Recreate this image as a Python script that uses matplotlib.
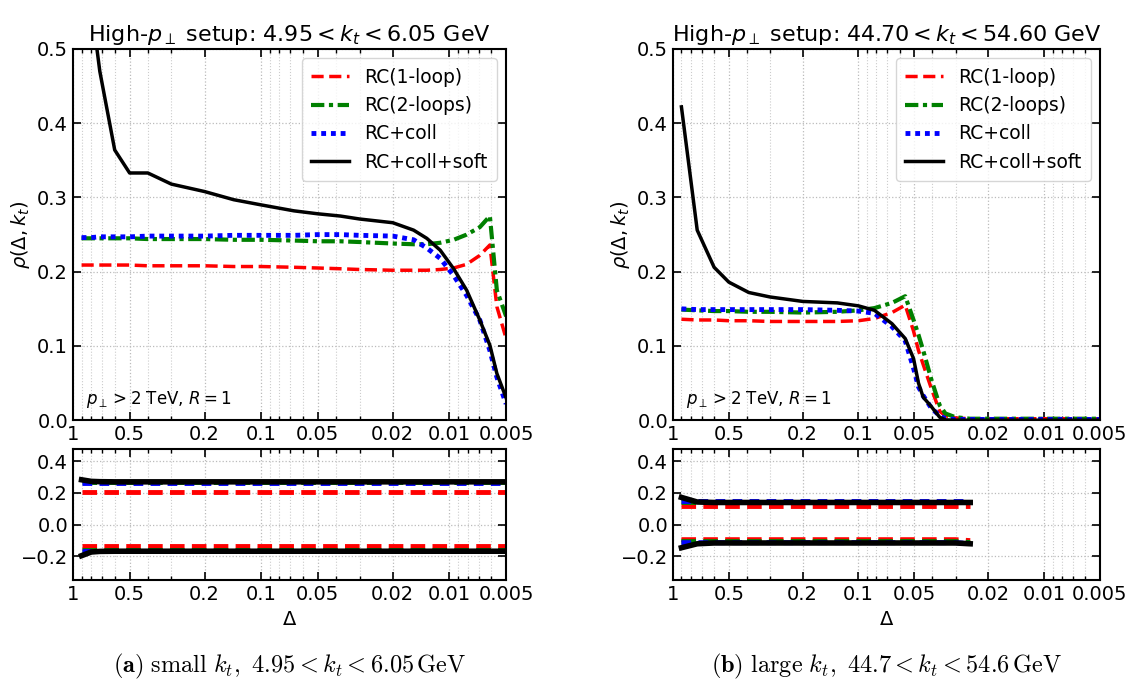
import matplotlib
matplotlib.use("Agg")
from matplotlib import pyplot as plt
from matplotlib.ticker import FixedLocator, NullFormatter, LogLocator

# ---- data ----
# small kt panel
delta_a = [0.9, 0.8, 0.72, 0.6, 0.5, 0.4, 0.3, 0.2, 0.14, 0.1, 0.067, 0.05, 0.038,
           0.03, 0.02, 0.0155, 0.0132, 0.0112, 0.0095, 0.0081, 0.0069, 0.0061, 0.0056, 0.005]
rc1_a = [0.209, 0.209, 0.209, 0.209, 0.209, 0.208, 0.208, 0.208, 0.207, 0.207, 0.206, 0.205, 0.204,
         0.203, 0.202, 0.202, 0.202, 0.203, 0.205, 0.210, 0.222, 0.236, 0.153, 0.110]
rc2_a = [0.245, 0.245, 0.245, 0.245, 0.245, 0.244, 0.244, 0.244, 0.243, 0.243, 0.242, 0.241, 0.241,
         0.240, 0.238, 0.237, 0.237, 0.239, 0.243, 0.250, 0.260, 0.275, 0.175, 0.140]
coll_a = [0.246, 0.246, 0.247, 0.247, 0.247, 0.248, 0.248, 0.248, 0.249, 0.249, 0.249, 0.250, 0.250,
          0.249, 0.248, 0.243, 0.232, 0.218, 0.195, 0.168, 0.135, 0.094, 0.058, 0.022]
soft_a = [0.80, 0.56, 0.47, 0.364, 0.333, 0.333, 0.318, 0.308, 0.297, 0.290, 0.282, 0.278, 0.275,
          0.271, 0.266, 0.256, 0.245, 0.229, 0.204, 0.175, 0.135, 0.101, 0.063, 0.030]

# ratio panel, small kt (upper and lower bands)
rc1_a_up = [0.207] * 24
rc2_a_up = [0.266] * 24
coll_a_up = [0.262] * 24
soft_a_up = [0.283, 0.273, 0.271] + [0.270] * 21
rc1_a_lo = [-0.137] * 24
rc2_a_lo = [-0.160] * 24
coll_a_lo = [-0.164] * 24
soft_a_lo = [-0.195, -0.172, -0.168] + [-0.167] * 21

# large kt panel
delta_b = [0.9, 0.74, 0.6, 0.5, 0.39, 0.3, 0.2, 0.13, 0.1, 0.082, 0.066, 0.056, 0.0505,
           0.0475, 0.0448, 0.0404, 0.0365, 0.034, 0.03, 0.025, 0.02, 0.015, 0.01, 0.0075, 0.005]
rc1_b = [0.136, 0.135, 0.135, 0.134, 0.134, 0.133, 0.133, 0.133, 0.134, 0.137, 0.145, 0.155, 0.120,
         0.094, 0.075, 0.042, 0.012, 0.006, 0.003, 0.002, 0.002, 0.002, 0.002, 0.002, 0.002]
rc2_b = [0.149, 0.148, 0.147, 0.147, 0.146, 0.146, 0.145, 0.146, 0.148, 0.151, 0.158, 0.167, 0.135,
         0.115, 0.094, 0.054, 0.020, 0.009, 0.004, 0.002, 0.002, 0.002, 0.002, 0.002, 0.002]
coll_b = [0.150, 0.149, 0.149, 0.149, 0.149, 0.149, 0.149, 0.148, 0.147, 0.144, 0.126, 0.107, 0.070,
          0.045, 0.033, 0.016, 0.006, 0.002, 0.001, 0.001, 0.001, 0.001, 0.001, 0.001, 0.001]
soft_b = [0.422, 0.256, 0.206, 0.186, 0.172, 0.166, 0.160, 0.158, 0.154, 0.148, 0.130, 0.110, 0.083,
          0.050, 0.031, 0.018, 0.004, 0.0005, 0.0, 0.0, 0.0, 0.0, 0.0, 0.0, 0.0]

# ratio panel, large kt (stops at about 0.025)
delta_b_r = delta_b[:20]
rc1_b_up = [0.121] * 20
rc2_b_up = [0.142] * 20
coll_b_up = [0.148] * 20
soft_b_up = [0.172, 0.143] + [0.140] * 18
rc1_b_lo = [-0.094] * 19 + [-0.100]
rc2_b_lo = [-0.106] * 19 + [-0.112]
coll_b_lo = [-0.113] * 19 + [-0.118]
soft_b_lo = [-0.145, -0.120] + [-0.115] * 17 + [-0.120]

xticks = [1, 0.5, 0.2, 0.1, 0.05, 0.02, 0.01, 0.005]
xticklabels = ["1", "0.5", "0.2", "0.1", "0.05", "0.02", "0.01", "0.005"]
labels = ["RC(1-loop)", "RC(2-loops)", "RC+coll", "RC+coll+soft"]
titles = [r"High-$p_\perp$ setup: $4.95 < k_t < 6.05$ GeV",
          r"High-$p_\perp$ setup: $44.70 < k_t < 54.60$ GeV"]
captions = [r"$\mathbf{(a)}\ \mathrm{small}\ k_t,\ 4.95 < k_t < 6.05\,\mathrm{GeV}$",
            r"$\mathbf{(b)}\ \mathrm{large}\ k_t,\ 44.7 < k_t < 54.6\,\mathrm{GeV}$"]

red_style = dict(color="red", ls=(0, (3.5, 1.6)))
green_style = dict(color="green", ls=(0, (3.2, 1.1, 1.0, 1.1)))
blue_style = dict(color="blue", ls=(0, (1, 1)))
black_style = dict(color="black", ls="-")


def style_x(ax):
    ax.set_xscale("log")
    ax.set_xlim(1, 0.005)
    ax.xaxis.set_major_locator(FixedLocator(xticks))
    ax.set_xticklabels(xticklabels)
    ax.xaxis.set_minor_locator(LogLocator(base=10, subs=range(2, 10)))
    ax.xaxis.set_minor_formatter(NullFormatter())
    ax.tick_params(which="both", direction="in", top=True, right=True, labelsize=14)
    ax.tick_params(which="major", length=6, width=1.2)
    ax.tick_params(which="minor", length=3, width=1)
    ax.grid(True, which="major", ls=":", color="#bbbbbb", lw=0.9)
    ax.grid(True, which="minor", axis="x", ls=":", color="#cccccc", lw=0.8)
    for s in ax.spines.values():
        s.set_linewidth(1.5)


fig = plt.figure(figsize=(11.31, 6.9), dpi=100)

panels = [
    (0.0645, 0.383, delta_a, [rc1_a, rc2_a, coll_a, soft_a], delta_a,
     [rc1_a_up, rc2_a_up, coll_a_up, soft_a_up], [rc1_a_lo, rc2_a_lo, coll_a_lo, soft_a_lo]),
    (0.595, 0.3775, delta_b, [rc1_b, rc2_b, coll_b, soft_b], delta_b_r,
     [rc1_b_up, rc2_b_up, coll_b_up, soft_b_up], [rc1_b_lo, rc2_b_lo, coll_b_lo, soft_b_lo]),
]

for i, (left, width, xs, ys, xr, ups, los) in enumerate(panels):
    ax = fig.add_axes([left, 0.391, width, 0.538])
    ax.plot(xs, ys[0], lw=2.5, label=labels[0], **red_style)
    ax.plot(xs, ys[1], lw=3.0, label=labels[1], **green_style)
    ax.plot(xs, ys[2], lw=3.5, label=labels[2], **blue_style)
    ax.plot(xs, ys[3], lw=2.5, label=labels[3], **black_style)
    style_x(ax)
    ax.set_ylim(0, 0.5)
    ax.set_yticks([0.0, 0.1, 0.2, 0.3, 0.4, 0.5])
    ax.set_ylabel(r"$\rho(\Delta, k_t)$", fontsize=14)
    ax.set_title(titles[i], fontsize=16, pad=6)
    leg = ax.legend(loc="upper right", fontsize=13.5, handlelength=2.0,
                    fancybox=True, framealpha=0.8, borderpad=0.5)
    leg.get_frame().set_edgecolor("#cccccc")
    ax.text(0.03, 0.045, r"$p_{\perp} > 2$ TeV, $R = 1$", transform=ax.transAxes, fontsize=12)

    axr = fig.add_axes([left, 0.159, width, 0.191])
    for band in (ups, los):
        axr.plot(xr, band[0], lw=3.5, **dict(red_style, ls=(0, (3, 1.5))))
        axr.plot(xr, band[1], lw=3.5, **dict(green_style, ls=(0, (3, 1.5))))
        axr.plot(xr, band[2], lw=3.5, **dict(blue_style, ls=(0, (2, 1.5))))
        axr.plot(xr, band[3], lw=4.0, **black_style)
    style_x(axr)
    axr.set_ylim(-0.35, 0.48)
    axr.set_yticks([-0.2, 0.0, 0.2, 0.4])
    axr.set_xlabel(r"$\Delta$", fontsize=14)

    fig.text(left + width / 2, 0.026, captions[i], ha="center", fontsize=17.5,
             math_fontfamily="cm")

fig.savefig("out.png", dpi=100)
